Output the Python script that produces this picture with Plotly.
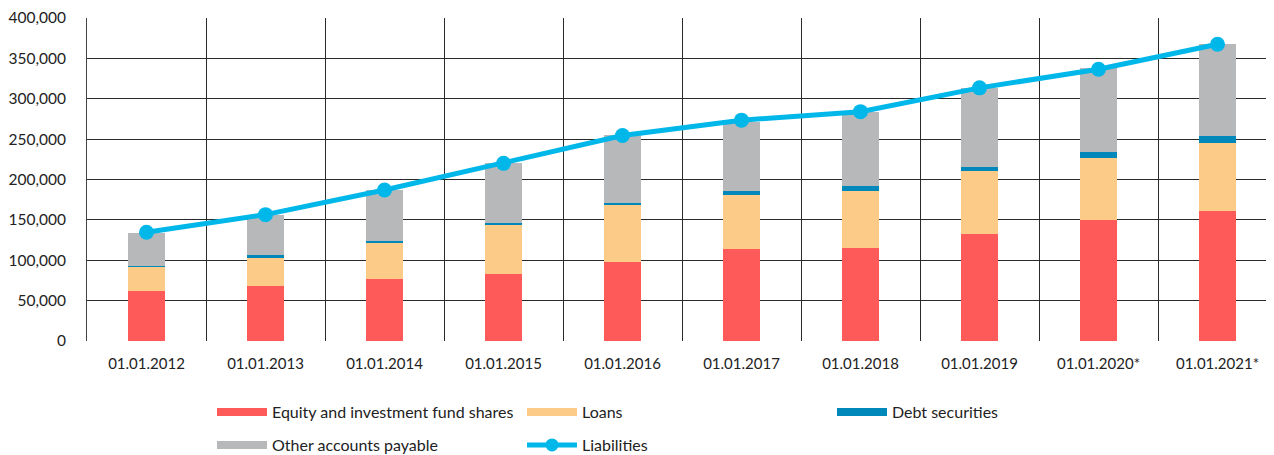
import plotly.graph_objects as go

categories = ["01.01.2012", "01.01.2013", "01.01.2014", "01.01.2015", "01.01.2016",
              "01.01.2017", "01.01.2018", "01.01.2019", "01.01.2020*", "01.01.2021*"]
equity = [62000, 68000, 77000, 83000, 98000, 114000, 115500, 133000, 150000, 160500]
loans = [30000, 36000, 45000, 61000, 70000, 67000, 70500, 77000, 77000, 85000]
debt = [1000, 2000, 1500, 2500, 2500, 5000, 6000, 6000, 7000, 8000]
other = [41000, 50000, 63500, 73500, 84500, 85500, 92000, 97500, 103500, 114000]
liabilities = [134600, 156500, 187000, 220000, 254500, 273500, 284000, 313500, 336500, 367500]

y_ticks = [0, 50000, 100000, 150000, 200000, 250000, 300000, 350000, 400000]

C_EQ = "#FF5A5A"
C_LO = "#FDCB88"
C_DE = "#0088BB"
C_OT = "#B7B8BA"
C_LI = "#00B7EA"

FONT = "Lato"
x = list(range(len(categories)))

fig = go.Figure()
for name, vals, col in [("Equity and investment fund shares", equity, C_EQ),
                        ("Loans", loans, C_LO),
                        ("Debt securities", debt, C_DE),
                        ("Other accounts payable", other, C_OT)]:
    fig.add_trace(go.Bar(x=x, y=vals, name=name, marker=dict(color=col, line=dict(width=0)),
                         width=0.31, showlegend=False))
fig.add_trace(go.Scatter(x=x, y=liabilities, name="Liabilities", mode="lines+markers",
                         line=dict(color=C_LI, width=5), marker=dict(size=15, color=C_LI),
                         showlegend=False))

# legend entries (two rows, each its own legend)
legend_items = [("Equity and investment fund shares", C_EQ, "legend"),
                ("Loans", C_LO, "legend"),
                ("Debt securities", C_DE, "legend"),
                ("Other accounts payable", C_OT, "legend2")]
for name, col, lg in legend_items:
    fig.add_trace(go.Scatter(x=[None], y=[None], mode="lines", name=name,
                             line=dict(color=col, width=8), legend=lg))
fig.add_trace(go.Scatter(x=[None], y=[None], mode="lines+markers", name="Liabilities",
                         line=dict(color=C_LI, width=5), marker=dict(size=13, color=C_LI),
                         legend="legend2"))

LX = (212 - 87) / 1190
leg_common = dict(orientation="h", x=LX, xref="paper", yref="container",
                  xanchor="left", yanchor="middle",
                  entrywidth=245, entrywidthmode="pixels", itemwidth=50,
                  traceorder="normal",
                  font=dict(family=FONT, size=16, color="#222222"),
                  bgcolor="rgba(0,0,0,0)")

fig.update_layout(
    barmode="stack",
    width=1274, height=455,
    margin=dict(l=79, r=5, t=10, b=122),
    paper_bgcolor="white", plot_bgcolor="white",
    font=dict(family=FONT, size=15, color="#222222"),
    legend=dict(leg_common, y=(455 - 404) / 455),
    legend2=dict(leg_common, y=(455 - 437) / 455),
    bargap=0.69,
)
fig.update_xaxes(
    range=[-0.5, 9.5], tickmode="array", tickvals=x, ticktext=categories,
    showgrid=False, ticks="", showline=False, zeroline=False, automargin=False,
    minor=dict(tickmode="array", tickvals=[i + 0.5 for i in range(-1, 10)],
               showgrid=True, gridcolor="#2a2a2a", gridwidth=1, ticks=""),
    tickfont=dict(family=FONT, size=15, color="#222222"),
    ticklabelstandoff=12,
)
fig.update_yaxes(
    range=[0, 400000], tickmode="array", tickvals=y_ticks,
    ticktext=[f"{v:,}" for v in y_ticks],
    showgrid=True, gridcolor="#2a2a2a", gridwidth=1, zeroline=False,
    showline=True, linecolor="#444444", linewidth=1, automargin=False,
    ticks="", ticklabelstandoff=17,
    tickfont=dict(family=FONT, size=15.5, color="#222222"),
)

fig.write_html("out.html")
